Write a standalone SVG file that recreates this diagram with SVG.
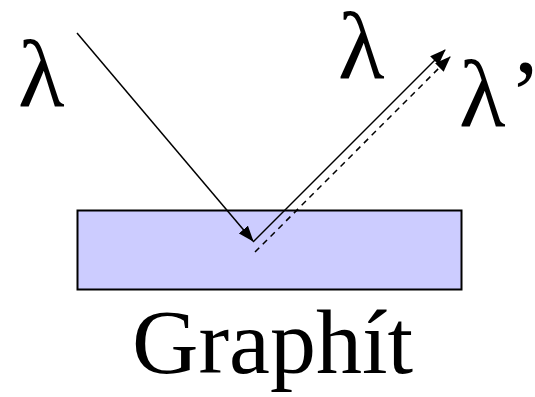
<svg xmlns="http://www.w3.org/2000/svg" width="535" height="397" viewBox="0 0 535 397">
<style>
.t{font-family:"Liberation Serif","Times New Roman",serif;fill:#000}
.ln{stroke:#000;stroke-width:1.5;fill:none}
</style>
<defs>
<marker id="ah" markerWidth="16" markerHeight="12" refX="15" refY="6" orient="auto" markerUnits="userSpaceOnUse">
<path d="M0,0 L16,6 L0,12 Z" fill="#000"/>
</marker>
</defs>
<rect width="535" height="397" fill="#fff"/>
<g id="graphite">
<rect x="77.5" y="210.5" width="384" height="79" fill="#CCCCFF" stroke="#000" stroke-width="2"/>
<text class="t" x="132" y="373" font-size="92">Graphít</text>
</g>
<g id="labels">
<text class="t" x="18" y="106" font-size="96">λ</text>
<text class="t" x="338" y="78" font-size="96">λ</text>
<text class="t" x="459" y="126" font-size="96">λ<tspan dx="4">’</tspan></text>
</g>
<g id="connectors">
<line class="ln" x1="77" y1="33" x2="253" y2="241" marker-end="url(#ah)"/>
<line class="ln" x1="253" y1="242" x2="445" y2="50" marker-end="url(#ah)"/>
<line class="ln" x1="255" y1="252" x2="450" y2="57" stroke-dasharray="6,5" marker-end="url(#ah)"/>
</g>
</svg>
